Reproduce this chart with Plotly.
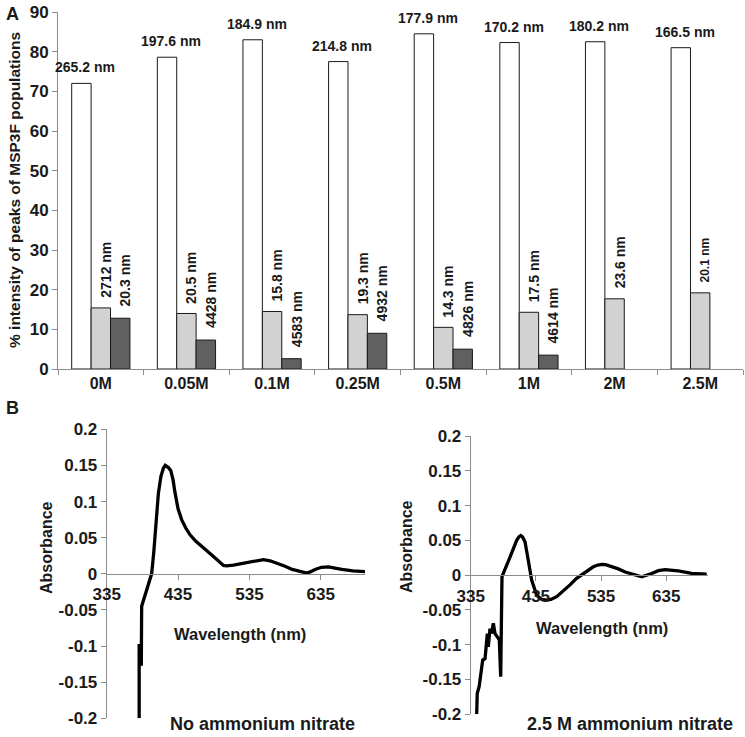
import plotly.graph_objects as go

W, H = 745, 737

# ---- panel A data ----
categories = ['0M', '0.05M', '0.1M', '0.25M', '0.5M', '1M', '2M', '2.5M']
white_vals = [72.0, 78.6, 83.0, 77.5, 84.5, 82.3, 82.5, 81.0]
light_vals = [15.4, 14.0, 14.5, 13.7, 10.5, 14.3, 17.7, 19.2]
dark_vals = [12.8, 7.3, 2.6, 9.0, 5.0, 3.5, None, None]
white_labels = ['265.2 nm', '197.6 nm', '184.9 nm', '214.8 nm', '177.9 nm', '170.2 nm', '180.2 nm', '166.5 nm']
light_labels = ['2712 nm', '20.5 nm', '15.8 nm', '19.3 nm', '14.3 nm', '17.5 nm', '23.6 nm', '20.1 nm']
dark_labels = ['20.3 nm', '4428 nm', '4583 nm', '4932 nm', '4826 nm', '4614 nm', None, None]
y_ticks_a = [0, 10, 20, 30, 40, 50, 60, 70, 80, 90]

# ---- panel B data ----
wl_none = [380.5, 380.5, 381, 381.5, 383.5, 384, 385.5, 391, 398, 401, 404, 407.4, 411, 414.4, 417, 419,
           421.5, 424.8, 428, 430.8, 435, 440, 446, 451.8, 460, 470.5, 480, 489, 498.6, 503, 512.6, 524,
           533.6, 545, 554.6, 564, 575, 585, 595, 603.7, 610, 615.5, 621, 627, 636, 645.8, 655, 664.6, 680, 697]
abs_none = [-0.2, -0.097, -0.097, -0.125, -0.125, -0.045, -0.04, -0.022, 0.0, 0.03, 0.07, 0.111, 0.135, 0.146,
            0.150, 0.149, 0.147, 0.143, 0.13, 0.112, 0.09, 0.075, 0.063, 0.054, 0.045, 0.036, 0.027, 0.020,
            0.0115, 0.011, 0.012, 0.014, 0.0155, 0.018, 0.0197, 0.018, 0.0145, 0.0105, 0.006, 0.0036, 0.0015,
            0.001, 0.003, 0.006, 0.009, 0.0097, 0.008, 0.006, 0.004, 0.003]

wl_nitrate = [344.2, 345, 348, 350.3, 353.4, 357, 358.5, 360.5, 362, 364.6, 367, 369.7, 372.3, 375.8, 378.9,
              381, 383, 395.3, 405.5, 409, 411.7, 414.5, 418.3, 423.3, 428.5, 436.2, 444, 451.5, 458, 466.9,
              477, 487.3, 497, 507.7, 523, 530, 536, 542, 548, 561.4, 572, 582, 597.3, 612.6, 623, 633, 643,
              653.4, 674, 697]
abs_nitrate = [-0.2, -0.17, -0.16, -0.141, -0.122, -0.12, -0.103, -0.084, -0.103, -0.077, -0.084, -0.069,
               -0.084, -0.089, -0.093, -0.146, -0.002, 0.026, 0.05, 0.055, 0.057, 0.055, 0.048, 0.0215, -0.007,
               -0.029, -0.035, -0.036, -0.035, -0.031, -0.023, -0.014, -0.005, 0.0024, 0.012, 0.0145, 0.0155,
               0.0152, 0.0135, 0.009, 0.0045, 0.0014, -0.0024, 0.0024, 0.0065, 0.008, 0.0075, 0.006, 0.0024, 0.0014]

abs_tickvals = [0.2, 0.15, 0.1, 0.05, 0, -0.05, -0.1, -0.15, -0.2]
abs_ticktext = ['0.2', '0.15', '0.1', '0.05', '0', '-0.05', '-0.1', '-0.15', '-0.2']
wl_ticks = [335, 435, 535, 635]

FONT = 'Liberation Sans, Arial, sans-serif'
AXIS_GREY = '#8c8c8c'
TXT = '#1a1a1a'


def px_x(p):
    # window pixel -> paper fraction
    return p / W


def px_y(p):
    return (H - p) / H


fig = go.Figure()

bar_line = dict(color='#1a1a1a', width=1)
fig.add_trace(go.Bar(x=categories, y=white_vals, marker=dict(color='white', line=bar_line),
                     xaxis='x', yaxis='y', showlegend=False))
fig.add_trace(go.Bar(x=categories, y=light_vals, marker=dict(color='#d2d2d2', line=bar_line),
                     xaxis='x', yaxis='y', showlegend=False))
fig.add_trace(go.Bar(x=categories, y=dark_vals, marker=dict(color='#606060', line=bar_line),
                     xaxis='x', yaxis='y', showlegend=False))

fig.add_trace(go.Scatter(x=wl_none, y=abs_none, mode='lines', line=dict(color='black', width=3.3),
                         xaxis='x2', yaxis='y2', showlegend=False))
fig.add_trace(go.Scatter(x=wl_nitrate, y=abs_nitrate, mode='lines', line=dict(color='black', width=3.3),
                         xaxis='x3', yaxis='y3', showlegend=False))

# bar layout geometry
a_x0, a_x1 = 58, 743
gap = 0.32
cat_w = (a_x1 - a_x0) / len(categories)
bar_w = cat_w * (1 - gap) / 3

annotations = []
for i, c in enumerate(categories):
    annotations.append(dict(x=c, y=white_vals[i], xref='x', yref='y', text=white_labels[i],
                            showarrow=False, xanchor='center', yanchor='bottom',
                            xshift=-bar_w + 4, yshift=6,
                            font=dict(size=14, family=FONT, color=TXT, weight='bold')))
    annotations.append(dict(x=c, y=light_vals[i], xref='x', yref='y', text=light_labels[i],
                            showarrow=False, textangle=-90, xanchor='center', yanchor='bottom',
                            xshift=5, yshift=8,
                            font=dict(size=12 if i == 7 else 14, family=FONT, color=TXT, weight='bold')))
    if dark_vals[i] is not None:
        annotations.append(dict(x=c, y=dark_vals[i], xref='x', yref='y', text=dark_labels[i],
                                showarrow=False, textangle=-90, xanchor='center', yanchor='bottom',
                                xshift=bar_w + 5, yshift=10,
                                font=dict(size=14, family=FONT, color=TXT, weight='bold')))

def txt(text, x, y, size, angle=0):
    return dict(x=px_x(x), y=px_y(y), xref='paper', yref='paper', text=text, showarrow=False,
                textangle=angle, xanchor='center', yanchor='middle',
                font=dict(size=size, family=FONT, color=TXT, weight='bold'))

annotations += [
    txt('A', 12, 14, 18),
    txt('B', 12, 408, 18),
    txt('% intensity of peaks of MSP3F populations', 14, 190, 15.5, -90),
    txt('Absorbance', 46, 548, 16, -90),
    txt('Absorbance', 406, 547, 16, -90),
    txt('Wavelength (nm)', 240, 634, 16.5),
    txt('Wavelength (nm)', 602, 628, 16.5),
    txt('No ammonium nitrate', 262, 724, 18),
    txt('2.5 M ammonium nitrate', 630, 724, 18),
]

tickfont = dict(size=17, family=FONT, color=TXT, weight='bold')


def axis_style(**kw):
    base = dict(showline=True, linecolor=AXIS_GREY, linewidth=1, ticks='outside', ticklen=5,
                tickcolor=AXIS_GREY, tickfont=tickfont, showgrid=False, zeroline=False,
                automargin=False)
    base.update(kw)
    return base


y2_dom = [px_y(718.3), px_y(429.3)]
y3_dom = [px_y(714.3), px_y(436)]

fig.update_layout(
    width=W, height=H,
    margin=dict(l=0, r=0, t=0, b=0, autoexpand=False),
    paper_bgcolor='white', plot_bgcolor='white',
    font=dict(family=FONT, color=TXT),
    barmode='group', bargap=gap, bargroupgap=0,
    annotations=annotations,
    xaxis=axis_style(domain=[px_x(a_x0), px_x(a_x1)], anchor='y', type='category',
                     range=[-0.5, 7.5], tickson='boundaries',
                     tickfont=dict(size=16, family=FONT, color=TXT, weight='bold')),
    yaxis=axis_style(domain=[px_y(369), px_y(12)], anchor='x', range=[0, 90], tickvals=y_ticks_a),
    xaxis2=axis_style(domain=[px_x(106.7), px_x(365)], anchor='free', position=sum(y2_dom) / 2,
                      range=[335, 697], tickvals=wl_ticks),
    yaxis2=axis_style(domain=y2_dom, anchor='x2', range=[-0.2, 0.2], tickvals=abs_tickvals,
                      ticktext=abs_ticktext),
    xaxis3=axis_style(domain=[px_x(470.7), px_x(708)], anchor='free', position=sum(y3_dom) / 2,
                      range=[335, 699], tickvals=wl_ticks),
    yaxis3=axis_style(domain=y3_dom, anchor='x3', range=[-0.2, 0.2], tickvals=abs_tickvals,
                      ticktext=abs_ticktext),
)

# drop the page's default body margin so the figure sits in the window's corner
fig.write_html('out.html', config={'displayModeBar': False},
               post_script="document.body.style.margin='0px';")
